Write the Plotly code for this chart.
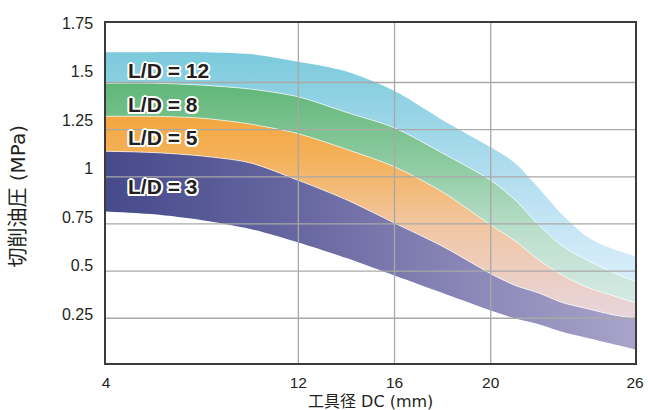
import plotly.graph_objects as go

# ---------------- data ----------------
dc = [4, 6, 8, 10, 12, 14, 16, 18, 20, 21, 22, 23, 24, 25, 26]
p_min = [0.78, 0.765, 0.735, 0.69, 0.62, 0.54, 0.45, 0.36, 0.27, 0.23, 0.20, 0.16, 0.13, 0.10, 0.07]
p_ld3 = [1.09, 1.083, 1.065, 1.03, 0.94, 0.84, 0.72, 0.60, 0.46, 0.40, 0.36, 0.31, 0.28, 0.25, 0.23]
p_ld5 = [1.27, 1.27, 1.26, 1.23, 1.18, 1.10, 1.01, 0.88, 0.71, 0.63, 0.53, 0.45, 0.39, 0.35, 0.31]
p_ld8 = [1.44, 1.44, 1.43, 1.41, 1.37, 1.29, 1.21, 1.08, 0.94, 0.84, 0.71, 0.60, 0.53, 0.47, 0.42]
p_ld12 = [1.60, 1.60, 1.60, 1.59, 1.55, 1.50, 1.40, 1.25, 1.11, 1.03, 0.90, 0.76, 0.65, 0.59, 0.55]

band_names = ["L/D = 3", "L/D = 5", "L/D = 8", "L/D = 12"]
x_ticks = [4, 12, 16, 20, 26]
y_ticks = [0.25, 0.5, 0.75, 1, 1.25, 1.5, 1.75]
y_ticktext = ["0.25", "0.5", "0.75", "1", "1.25", "1.5", "1.75"]
grid_x = [12, 16, 20]
grid_y = [0.25, 0.5, 0.75, 1.0, 1.25, 1.5]

x_title = "工具径 DC (mm)"
y_title = "切削油圧 (MPa)"

# ---------------- styles ----------------
LAT = "Liberation Sans, Arial, Noto Sans CJK JP, sans-serif"
TITLE_FONT = "DejaVu Sans, Noto Sans CJK JP, sans-serif"
TXT = "#231f20"
GRID = "#a8a8a8"
FRAME = "#3d3a3b"

fills = [
    dict(type="horizontal", start=4, stop=26,
         colorscale=[[0, "#464a8b"], [0.4, "#6b6aa3"], [0.7, "#8c88b8"], [1, "#a7a3c9"]]),
    dict(type="vertical", start=0.2, stop=1.3,
         colorscale=[[0, "#e7d6e2"], [0.45, "#f1c7a4"], [0.75, "#f4b35f"], [1, "#f4a53a"]]),
    dict(type="vertical", start=0.3, stop=1.45,
         colorscale=[[0, "#d5eae6"], [0.3, "#bfe0cf"], [0.6, "#92cda5"], [1, "#5fb677"]]),
    dict(type="vertical", start=0.5, stop=1.6,
         colorscale=[[0, "#d5ecf9"], [0.45, "#b0ddee"], [0.75, "#93d3e4"], [1, "#7bcadc"]]),
]
label_pos = [(4.85, 0.91), (4.85, 1.163), (4.85, 1.332), (4.85, 1.503)]

fig = go.Figure()
fig.add_trace(go.Scatter(x=dc, y=p_min, mode="lines", line=dict(width=0, shape="spline", smoothing=0.8),
                         showlegend=False, hoverinfo="skip"))
uppers = [p_ld3, p_ld5, p_ld8, p_ld12]
for i, (name, up) in enumerate(zip(band_names, uppers)):
    fig.add_trace(go.Scatter(
        x=dc, y=up, mode="lines", name=name, fill="tonexty",
        fillgradient=fills[i],
        line=dict(width=0.8 if i < 3 else 0, color="rgba(255,255,255,0.8)", shape="spline", smoothing=0.8),
        showlegend=False, hoverinfo="skip"))

# empty trace to instantiate the grid axis
fig.add_trace(go.Scatter(x=[], y=[], yaxis="y2", showlegend=False, hoverinfo="skip"))

shapes = []
for gx in grid_x:
    shapes.append(dict(type="line", xref="x", yref="paper", x0=gx, x1=gx, y0=0, y1=1,
                       line=dict(color=GRID, width=1.3), layer="above"))
for gy in grid_y:
    shapes.append(dict(type="line", xref="paper", yref="y2", x0=0, x1=1, y0=gy, y1=gy,
                       line=dict(color=GRID, width=1.3), layer="above"))

shadow = ", ".join(f"{a}px {b}px 0 #ffffff" for a, b in
                   [(2, 0), (-2, 0), (0, 2), (0, -2), (1.5, 1.5), (-1.5, 1.5), (1.5, -1.5), (-1.5, -1.5)])
annotations = []
for name, (lx, ly) in zip(band_names, label_pos):
    annotations.append(dict(x=lx, y=ly, xref="x", yref="y", text=name, showarrow=False,
                            xanchor="left", yanchor="middle",
                            font=dict(family=LAT, size=21, color=TXT, weight="bold", shadow=shadow)))
annotations.append(dict(x=-0.166, y=0.49, xref="paper", yref="paper", text=y_title, textangle=-90,
                        showarrow=False, xanchor="center", yanchor="middle",
                        font=dict(family=TITLE_FONT, size=20, color=TXT)))
annotations.append(dict(x=0.5, y=-0.113, xref="paper", yref="paper", text=x_title,
                        showarrow=False, xanchor="center", yanchor="middle",
                        font=dict(family=TITLE_FONT, size=16, color=TXT)))

fig.update_layout(
    width=648, height=410,
    margin=dict(l=106, r=13, t=23, b=47, autoexpand=False),
    paper_bgcolor="white", plot_bgcolor="white",
    xaxis=dict(range=[4, 26], tickvals=x_ticks, showgrid=False, zeroline=False,
               showline=True, mirror=True, linecolor=FRAME, linewidth=1.5,
               ticks="", ticklabelstandoff=5, automargin=False,
               tickfont=dict(family=LAT, size=15.5, color=TXT)),
    yaxis=dict(range=[0, 1.75], tickvals=y_ticks, ticktext=y_ticktext, showgrid=False, zeroline=False,
               showline=True, mirror=True, linecolor=FRAME, linewidth=1.5,
               ticks="", ticklabelstandoff=8, automargin=False,
               tickfont=dict(family=LAT, size=16, color=TXT)),
    yaxis2=dict(range=[0.0127, 1.8156], overlaying="y", showgrid=False, zeroline=False,
                showticklabels=False, showline=False, ticks="", automargin=False),
    shapes=shapes,
    annotations=annotations,
    hovermode=False,
)

fig.write_html("out.html", config={"displayModeBar": False},
               post_script="document.body.style.margin='0';")
